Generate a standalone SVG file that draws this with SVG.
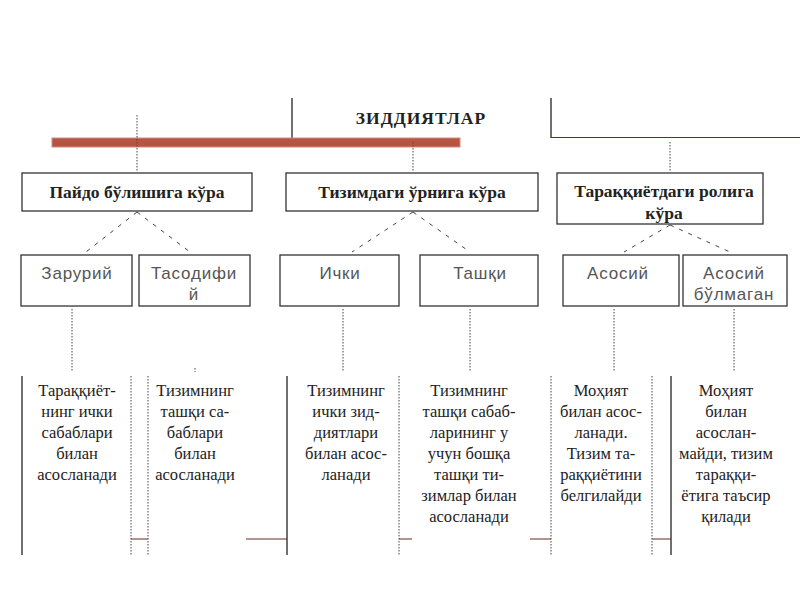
<svg xmlns="http://www.w3.org/2000/svg" width="800" height="600" viewBox="0 0 800 600">
<style>
.bg{fill:#fff}
.box{fill:#fff;stroke:#333;stroke-width:1.3}
.t2{font-family:"Liberation Serif",serif;font-size:17.5px;font-weight:bold;fill:#222;text-anchor:middle}
.t3{font-family:"Liberation Sans",sans-serif;font-size:17px;fill:#555;text-anchor:middle;letter-spacing:0.8px}
.t4{font-family:"Liberation Serif",serif;font-size:16.5px;fill:#222;text-anchor:middle}
.dot{stroke:#444;stroke-width:1;stroke-dasharray:1.5 1.5;fill:none}
.dash{stroke:#444;stroke-width:1;stroke-dasharray:4 6;fill:none}
.solid{stroke:#222;stroke-width:1.3;fill:none}
.brown{stroke:#6b2a20;stroke-width:1.2;fill:none}
</style>
<rect class="bg" width="800" height="600"/>

<g id="connectors">
  <line class="solid" x1="292" y1="98" x2="292" y2="138"/>
  <line class="solid" x1="551" y1="98" x2="551" y2="138"/>
  <line class="brown" x1="551" y1="137.5" x2="800" y2="137.5"/>
  <rect x="52" y="138" width="408" height="9" fill="#b85442" stroke="#d08a7c" stroke-width="1"/>
  <line class="dot" x1="137" y1="115" x2="137" y2="172"/>
  <line class="dot" x1="413" y1="142" x2="413" y2="172"/>
  <line class="dot" x1="670" y1="142" x2="670" y2="172"/>
  <path class="dash" d="M137 212 L86 252 M137 212 L190 252"/>
  <path class="dash" d="M413 212 L352 252 M413 212 L470 252"/>
  <path class="dash" d="M670 225 L624 252 M670 225 L730 252"/>
  <line class="dot" x1="72" y1="309" x2="72" y2="371"/>
  <line class="dot" x1="343" y1="309" x2="343" y2="371"/>
  <line class="dot" x1="470" y1="309" x2="470" y2="371"/>
  <line class="dot" x1="614" y1="309" x2="614" y2="371"/>
  <line class="dot" x1="734" y1="309" x2="734" y2="371"/>
  <line class="dot" x1="195" y1="368" x2="195" y2="372"/>
  <line class="solid" x1="22" y1="376" x2="22" y2="555"/>
  <line class="dot" x1="131" y1="376" x2="131" y2="555"/>
  <line class="dot" x1="148" y1="376" x2="148" y2="555"/>
  <line class="solid" x1="287" y1="376" x2="287" y2="555"/>
  <line class="dot" x1="399" y1="376" x2="399" y2="555"/>
  <line class="dot" x1="551" y1="376" x2="551" y2="555"/>
  <line class="dot" x1="652" y1="376" x2="652" y2="555"/>
  <line class="solid" x1="671" y1="376" x2="671" y2="555"/>
  <path class="brown" d="M131 539 H148 M246 539 H287 M399 539 H412 M530 539 H551 M652 539 H671"/>
</g>

<g id="root"><text class="t2" x="421" y="124" font-size="20" letter-spacing="1">ЗИДДИЯТЛАР</text></g>

<g id="n-paydo"><rect class="box" x="22" y="173" width="230" height="38"/><text class="t2" x="137" y="198">Пайдо бўлишига кўра</text></g>
<g id="n-tizim"><rect class="box" x="286" y="173" width="252" height="38"/><text class="t2" x="412" y="198">Тизимдаги ўрнига кўра</text></g>
<g id="n-taraq"><rect class="box" x="557" y="173" width="206" height="51"/><text class="t2" x="664" y="197">Тараққиётдаги ролига</text><text class="t2" x="664" y="219">кўра</text></g>

<g id="n-zarur"><rect class="box" x="21" y="255" width="111" height="51"/><text class="t3" x="77" y="279">Зарурий</text></g>
<g id="n-tasod"><rect class="box" x="139" y="255" width="111" height="51"/><text class="t3" x="194" y="279">Тасодифи</text><text class="t3" x="194" y="300">й</text></g>
<g id="n-ichki"><rect class="box" x="280" y="255" width="119" height="51"/><text class="t3" x="340" y="279">Ички</text></g>
<g id="n-tashqi"><rect class="box" x="420" y="255" width="118" height="51"/><text class="t3" x="480" y="279">Ташқи</text></g>
<g id="n-asosiy"><rect class="box" x="563" y="255" width="116" height="51"/><text class="t3" x="618" y="279">Асосий</text></g>
<g id="n-asosiy-emas"><rect class="box" x="683" y="255" width="104" height="51"/><text class="t3" x="734" y="279">Асосий</text><text class="t3" x="734" y="300">бўлмаган</text></g>

<g id="d1"><text class="t4" x="77" y="396">Тараққиёт-</text><text class="t4" x="77" y="417">нинг ички</text><text class="t4" x="77" y="438">сабаблари</text><text class="t4" x="77" y="459">билан</text><text class="t4" x="77" y="480">асосланади</text></g>
<g id="d2"><text class="t4" x="195" y="396">Тизимнинг</text><text class="t4" x="195" y="417">ташқи са-</text><text class="t4" x="195" y="438">баблари</text><text class="t4" x="195" y="459">билан</text><text class="t4" x="195" y="480">асосланади</text></g>
<g id="d3"><text class="t4" x="346" y="396">Тизимнинг</text><text class="t4" x="346" y="417">ички зид-</text><text class="t4" x="346" y="438">диятлари</text><text class="t4" x="346" y="459">билан асос-</text><text class="t4" x="346" y="480">ланади</text></g>
<g id="d4"><text class="t4" x="469" y="396">Тизимнинг</text><text class="t4" x="469" y="417">ташқи сабаб-</text><text class="t4" x="469" y="438">ларининг у</text><text class="t4" x="469" y="459">учун бошқа</text><text class="t4" x="469" y="480">ташқи ти-</text><text class="t4" x="469" y="501">зимлар билан</text><text class="t4" x="469" y="522">асосланади</text></g>
<g id="d5"><text class="t4" x="601" y="396">Моҳият</text><text class="t4" x="601" y="417">билан асос-</text><text class="t4" x="601" y="438">ланади.</text><text class="t4" x="601" y="459">Тизим та-</text><text class="t4" x="601" y="480">раққиётини</text><text class="t4" x="601" y="501">белгилайди</text></g>
<g id="d6"><text class="t4" x="726" y="396">Моҳият</text><text class="t4" x="726" y="417">билан</text><text class="t4" x="726" y="438">асослан-</text><text class="t4" x="726" y="459">майди, тизим</text><text class="t4" x="726" y="480">тараққи-</text><text class="t4" x="726" y="501">ётига таъсир</text><text class="t4" x="726" y="522">қилади</text></g>
</svg>
